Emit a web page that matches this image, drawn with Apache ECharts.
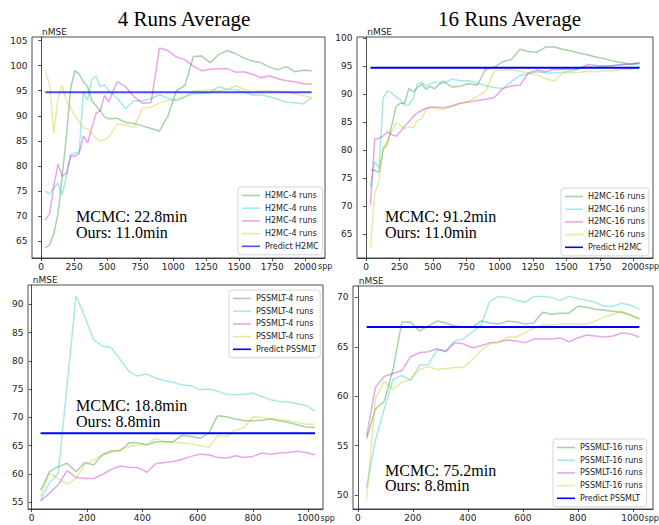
<!DOCTYPE html>
<html>
<head>
<meta charset="utf-8">
<title>nMSE runs</title>
<script src="https://cdn.jsdelivr.net/npm/echarts@6.0.0/dist/echarts.min.js"></script>
<style>
  html, body { margin: 0; padding: 0; background: #fff; }
  #chart { width: 659px; height: 525px; }
</style>
</head>
<body>
<div id="chart"></div>
<script>
// spp sample points
const topX = [32, 64, 96, 128, 160, 192, 224, 256, 288, 320, 352, 384, 416, 448, 480, 512,
  576, 640, 704, 768, 832, 896, 960, 1024, 1088, 1152, 1216, 1280, 1344, 1408, 1472, 1536,
  1600, 1664, 1728, 1792, 1856, 1920, 1984, 2048];
const bottomX = [32, 64, 96, 128, 160, 192, 224, 256, 288, 320, 352, 384, 416, 448, 480, 512,
  544, 576, 608, 640, 672, 704, 736, 768, 800, 832, 864, 896, 928, 960, 992, 1024];

// H2MC, 4 runs average
const h2mc4Run1 = [63.7, 64.3, 66.5, 70.5, 78, 86, 95.5, 99, 98.3, 96.8, 95.8, 93, 92, 91, 89.8, 89.4,
  89.5, 88.7, 88.5, 88, 87.5, 87, 90, 95, 96, 101.8, 101.9, 100.6, 102.2, 103, 102.4, 101.5,
  100.9, 100.6, 99.7, 99.2, 99.8, 98.8, 99.1, 99];
const h2mc4Run2 = [75, 74.4, 75.7, 76.6, 74.3, 78, 82.3, 82.6, 82.8, 94.6, 93.2, 97.3, 97.9, 95.8, 96.2, 95,
  93.5, 91.4, 93, 93, 93.4, 94.2, 93.5, 93, 93.8, 94.4, 94.5, 94.6, 95.8, 95.3, 95.2, 94.8,
  94.1, 94.2, 93.8, 93.3, 92.7, 92.6, 92.4, 93.6];
const h2mc4Run3 = [69.3, 70.5, 76, 80.4, 78, 78.5, 82, 82, 82.5, 86, 84.6, 87.6, 90.5, 91, 94, 92.8,
  96.8, 95.8, 93.8, 92.5, 92.6, 103.5, 103, 101.7, 101.2, 99.9, 99, 99.3, 99.4, 99.4, 98.7, 98.8,
  98.3, 97.6, 98, 97.4, 97, 96.8, 96.4, 96.3];
const h2mc4Run4 = [98.9, 96.3, 86.5, 93.5, 96, 93, 91.5, 90, 88.8, 87.6, 87.5, 86.5, 85.6, 85, 85.2, 85.8,
  88.4, 88.2, 87.7, 91.5, 91.7, 92.6, 93, 93.4, 93.7, 95, 95, 95.2, 95, 95.2, 96, 95.3,
  94.8, 95, 95, 94.9, 94.8, 94.4, 94, 93.6];

// H2MC, 16 runs average
const h2mc16Run1 = [76.6, 76.4, 76.1, 80.2, 81.2, 84.5, 87.8, 88.4, 88.4, 91, 90.4, 91.2, 91.8, 90.9, 91.4, 91,
  92.4, 91.3, 91.4, 91.9, 91.6, 94.5, 94.8, 95.8, 96.2, 98, 97.6, 97.5, 98.4, 98.4, 98, 97.7,
  97.3, 97, 96.6, 96.3, 95.9, 95.6, 95.4, 95.5];
const h2mc16Run2 = [73.5, 78, 76.8, 89.4, 90.6, 90.2, 89.5, 89, 88, 88.1, 89.2, 91.9, 92.1, 91.5, 91.8, 92.2,
  91.9, 92.7, 92.4, 92.4, 92, 91.5, 91.2, 91, 92.3, 93.3, 93.6, 94, 93.8, 93.8, 93.9, 94.1,
  94.6, 94.9, 94.9, 95, 95.1, 95.3, 95.3, 95.4];
const h2mc16Run3 = [70.3, 82, 82.1, 82.6, 83.3, 82.8, 82.5, 83.3, 84.3, 85.1, 86, 86.7, 87.1, 87.5, 87.6, 87.7,
  87.6, 87.9, 88.4, 88.6, 88.9, 89.1, 89.4, 91, 91.5, 91.6, 93.8, 94.3, 94, 94.4, 94.4, 94.4,
  94.6, 95.3, 95.1, 95, 95.1, 95.3, 95.4, 95.6];
const h2mc16Run4 = [62.6, 72.3, 74.5, 80.4, 81.8, 83.4, 84.9, 84.4, 83.9, 84.2, 84, 85.4, 85.6, 87.2, 87.9, 87.4,
  87.3, 87.8, 88.4, 88.7, 89.6, 90.6, 94.2, 94.3, 94.3, 94.1, 93.8, 93.4, 92.8, 92.3, 93.8, 93.8,
  93.9, 94.1, 94, 94.2, 94.2, 94.5, 94.4, 94.9];

// PSSMLT, 4 runs average
const pss4Run1 = [57.1, 60.4, 61.3, 61.9, 60.4, 62, 61.6, 63.4, 64.1, 64.1, 65.5, 65.5, 65.1, 65.7, 65.7, 65.7,
  66.8, 66.6, 66.3, 67.2, 70.3, 70.1, 69.7, 69.4, 69.4, 69.5, 69.7, 69.4, 69.1, 68.7, 68.3, 68.2];
const pss4Run2 = [55.4, 58.4, 60.1, 75.8, 91.5, 87.8, 83.7, 82.6, 82.3, 80.2, 78.1, 77.3, 77.7, 76.9, 76.5, 76.2,
  75.7, 75.6, 74.9, 75, 74.6, 74.1, 74, 74.1, 74.3, 73.7, 73.1, 72.8, 72.7, 72.4, 72.1, 71.1];
const pss4Run3 = [55.2, 56.6, 58.1, 60.6, 59.4, 59.2, 59.2, 59.9, 60.8, 61.4, 61.2, 61.1, 60.3, 61.8, 62, 62.2,
  62.6, 63.1, 63.5, 63.4, 62.9, 62.8, 63.2, 62.9, 63.1, 63.7, 63.5, 63.7, 63.8, 64, 63.8, 63.4];
const pss4Run4 = [56, 60.1, 59.2, 58.2, 59.2, 61.6, 62.5, 63.4, 63.8, 64.3, 64.8, 65.1, 65.3, 66.3, 65.7, 65.6,
  65.5, 65.3, 65, 64.7, 66.7, 66.6, 67.7, 68.2, 70.1, 70, 69.8, 69.6, 69.4, 69.1, 68.8, 68.8];

// PSSMLT, 16 runs average
const pss16Run1 = [55.7, 58.7, 59.5, 62.7, 67.5, 67.5, 66.6, 67.1, 67.6, 67.4, 67.1, 67, 67, 67.6, 67.4, 67.3,
  67.6, 67.5, 67.3, 67.4, 68.5, 68.3, 68.4, 68.4, 69.1, 69, 68.8, 68.7, 68.6, 68.5, 68.2, 67.8];
const pss16Run2 = [50.8, 55.6, 58.7, 61.7, 62.1, 61.6, 63.1, 63.2, 64.7, 64.6, 65.6, 65.8, 66.5, 67.2, 69.6, 70.1,
  70, 69.7, 69.5, 70.1, 70.1, 70, 69.7, 70.1, 69.9, 69.7, 69.5, 69.1, 69.1, 69.4, 69.2, 68.8];
const pss16Run3 = [56, 60.9, 62, 62.3, 62.6, 64, 64.4, 64.5, 64.8, 64.5, 65.4, 65.3, 64.9, 65.1, 65.4, 65.5,
  65.7, 65.6, 65.4, 65.8, 65.8, 65.8, 65.9, 65.5, 65.9, 66.2, 66.1, 66, 66.1, 66.4, 66.3, 66];
const pss16Run4 = [49.6, 59.7, 61.5, 60.7, 61.4, 61.7, 62.7, 63, 62.7, 62.8, 62.9, 62.9, 63.7, 64.6, 65.3, 65.4,
  66, 66, 66.4, 66.9, 67.2, 67.2, 67.3, 67.3, 67.3, 67.3, 67.6, 68, 68.3, 68.6, 68.2, 67.9];

// predicted nMSE (flat)
const predictH2mc4 = 94.7;
const predictH2mc16 = 94.7;
const predictPss4 = 67.2;
const predictPss16 = 67.0;

// tick labels
const topXTicks = [0, 250, 500, 750, 1000, 1250, 1500, 1750, 2000];
const bottomXTicks = [0, 200, 400, 600, 800, 1000];
const h2mc4YTicks = [65, 70, 75, 80, 85, 90, 95, 100, 105];
const h2mc16YTicks = [65, 70, 75, 80, 85, 90, 95, 100];
const pss4YTicks = [55, 60, 65, 70, 75, 80, 85, 90];
const pss16YTicks = [50, 55, 60, 65, 70];

const titles = ['4 Runs Average', '16 Runs Average'];
const timings = ['MCMC: 22.8min\nOurs: 11.0min', 'MCMC: 91.2min\nOurs: 11.0min',
  'MCMC: 18.8min\nOurs: 8.8min', 'MCMC: 75.2min\nOurs: 8.8min'];

const runColors = ['rgba(0,128,0,0.35)', 'rgba(0,191,191,0.35)', 'rgba(191,0,191,0.35)', 'rgba(191,191,0,0.35)'];

const panels = [
  { runs: [h2mc4Run1, h2mc4Run2, h2mc4Run3, h2mc4Run4], xs: topX, runName: 'H2MC-4 runs',
    predict: predictH2mc4, predictName: 'Predict H2MC', predictColor: 'rgba(0,0,255,0.7)',
    xTicks: topXTicks, yTicks: h2mc4YTicks, xRange: [-68.8, 2148.8], yRange: [61.7, 105.7],
    grid: { left: 32, top: 37, width: 293, height: 221 }, spp: [318, 266.5],
    legend: { left: 238, top: 187 }, note: { x: 76, y: 224.7 } },
  { runs: [h2mc16Run1, h2mc16Run2, h2mc16Run3, h2mc16Run4], xs: topX, runName: 'H2MC-16 runs',
    predict: predictH2mc16, predictName: 'Predict H2MC', predictColor: '#0000ff',
    xTicks: topXTicks, yTicks: h2mc16YTicks, xRange: [-68.8, 2148.8], yRange: [60.8, 100.2],
    grid: { left: 357, top: 37, width: 296, height: 221 }, spp: [644.8, 266.5],
    legend: { left: 561, top: 188 }, note: { x: 385, y: 224.7 } },
  { runs: [pss4Run1, pss4Run2, pss4Run3, pss4Run4], xs: bottomX, runName: 'PSSMLT-4 runs',
    predict: predictPss4, predictName: 'Predict PSSMLT', predictColor: '#0000ff',
    xTicks: bottomXTicks, yTicks: pss4YTicks, xRange: [-13.5, 1053], yRange: [53.8, 93.4],
    grid: { left: 28, top: 285, width: 295, height: 224 }, spp: [320.5, 518],
    legend: { left: 229, top: 290 }, note: { x: 76, y: 413.7 } },
  { runs: [pss16Run1, pss16Run2, pss16Run3, pss16Run4], xs: bottomX, runName: 'PSSMLT-16 runs',
    predict: predictPss16, predictName: 'Predict PSSMLT', predictColor: '#0000ff',
    xTicks: bottomXTicks, yTicks: pss16YTicks, xRange: [-17.6, 1073.6], yRange: [48.6, 71.15],
    grid: { left: 353, top: 286, width: 300, height: 223 }, spp: [644.6, 518],
    legend: { left: 553, top: 439 }, note: { x: 385, y: 478 } }
];

const chart = echarts.init(document.getElementById('chart'), null, { renderer: 'svg' });

const sans = 'DejaVu Sans';
const ink = '#222';
const pairs = (xs, ys) => xs.map((x, i) => [x, ys[i]]);
const plain = v => String(v);

const grids = [], xAxes = [], yAxes = [], legends = [], series = [], graphics = [];

panels.forEach((p, i) => {
  grids.push(Object.assign({ show: true, borderColor: ink, borderWidth: 0.8, outerBoundsMode: 'none' }, p.grid));

  xAxes.push({
    type: 'value', gridIndex: i, min: p.xRange[0], max: p.xRange[1],
    axisLine: { lineStyle: { color: ink, width: 0.8 } },
    axisTick: { length: 3, lineStyle: { color: ink, width: 0.8 }, customValues: p.xTicks },
    axisLabel: { fontFamily: sans, fontSize: 9, color: ink, margin: 4, customValues: p.xTicks, formatter: plain },
    splitLine: { show: false }
  });

  yAxes.push({
    type: 'value', gridIndex: i, min: p.yRange[0], max: p.yRange[1],
    name: 'nMSE', nameLocation: 'end', nameGap: 1,
    nameTextStyle: { fontFamily: sans, fontSize: 9, color: ink, align: 'left', verticalAlign: 'bottom', padding: [0, 0, 0, 1] },
    axisLine: { lineStyle: { color: ink, width: 0.8 } },
    axisTick: { length: 3, lineStyle: { color: ink, width: 0.8 }, customValues: p.yTicks },
    axisLabel: { fontFamily: sans, fontSize: 9, color: ink, margin: 4.5, customValues: p.yTicks, formatter: plain },
    splitLine: { show: false }
  });

  const names = [];
  p.runs.forEach((ys, k) => {
    const name = `${p.runName}#${i}${k}`;
    names.push(name);
    series.push({
      type: 'line', name, xAxisIndex: i, yAxisIndex: i, symbol: 'none',
      lineStyle: { color: runColors[k], width: 1.5 }, itemStyle: { color: runColors[k] },
      data: pairs(p.xs, ys)
    });
  });
  const predictName = `${p.predictName}#${i}`;
  names.push(predictName);
  series.push({
    type: 'line', name: predictName, xAxisIndex: i, yAxisIndex: i, symbol: 'none',
    lineStyle: { color: p.predictColor, width: 2 }, itemStyle: { color: p.predictColor },
    data: [[p.xs[0], p.predict], [p.xs[p.xs.length - 1], p.predict]]
  });

  legends.push(Object.assign({
    data: names, orient: 'vertical', selectedMode: false,
    icon: 'rect', itemWidth: 18, itemHeight: 1.6, itemGap: 2.7, padding: [3.5, 4, 3.5, 4],
    borderColor: '#cccccc', borderWidth: 0.8, borderRadius: 3, backgroundColor: 'rgba(255,255,255,0.8)',
    textStyle: { fontFamily: sans, fontSize: 8, color: ink, lineHeight: 10 },
    formatter: n => n.split('#')[0]
  }, p.legend));

  graphics.push({
    type: 'text', x: p.note.x, y: p.note.y, z: 10,
    style: { text: timings[i], fontFamily: 'Liberation Serif', fontSize: 16, lineHeight: 15.5,
      fill: '#000', align: 'left', verticalAlign: 'middle' }
  });
  // x axis unit, sits right after the last tick label
  graphics.push({
    type: 'text', x: p.spp[0], y: p.spp[1],
    style: { text: 'spp', fontFamily: sans, fontSize: 8, fill: ink, align: 'left', verticalAlign: 'middle' }
  });
});

graphics.push(
  { type: 'text', x: 184, y: 19, style: { text: titles[0], fontFamily: 'Liberation Serif', fontSize: 21, fill: '#000', align: 'center', verticalAlign: 'middle' } },
  { type: 'text', x: 509.5, y: 19, style: { text: titles[1], fontFamily: 'Liberation Serif', fontSize: 21, fill: '#000', align: 'center', verticalAlign: 'middle' } }
);

chart.setOption({
  animation: false,
  backgroundColor: '#fff',
  grid: grids,
  xAxis: xAxes,
  yAxis: yAxes,
  legend: legends,
  series,
  graphic: graphics
});
</script>
</body>
</html>
